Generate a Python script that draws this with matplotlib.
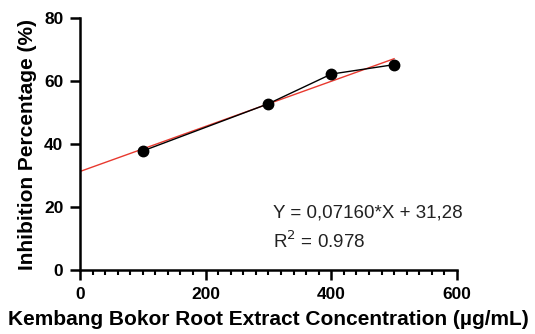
import matplotlib
matplotlib.use('Agg')
import matplotlib.pyplot as plt
import numpy as np
from matplotlib.ticker import MultipleLocator

# concentration (ug/mL) and inhibition (%)
conc = [100, 300, 400, 500]
inhib = [37.8, 52.8, 62.2, 65.2]

slope = 0.07160
intercept = 31.28
fit_x = np.array([0, 500])
fit_y = slope*fit_x + intercept

plt.rcParams['font.family'] = ['Liberation Sans', 'DejaVu Sans']

fig = plt.figure(figsize=(5.35, 3.34), dpi=100)
ax = fig.add_axes([0.1495, 0.1916, 0.7045, 0.7544])

ax.plot(fit_x, fit_y, color='#e8392f', linewidth=1.0, zorder=2)
ax.plot(conc, inhib, color='black', linewidth=1.0, marker='o', markersize=7.5, zorder=3)

ax.set_xlim(0, 600)
ax.set_ylim(0, 80)
ax.xaxis.set_major_locator(MultipleLocator(200))
ax.xaxis.set_minor_locator(MultipleLocator(20))
ax.yaxis.set_major_locator(MultipleLocator(20))

for s in ['top', 'right']:
    ax.spines[s].set_visible(False)
for s in ['left', 'bottom']:
    ax.spines[s].set_linewidth(1.8)

ax.tick_params(which='major', length=7, width=1.8, labelsize=12.5, pad=5)
ax.tick_params(which='minor', length=3.5, width=1.5)
for lab in ax.get_xticklabels() + ax.get_yticklabels():
    lab.set_fontweight('bold')

ax.set_xlabel('Kembang Bokor Root Extract Concentration (µg/mL)', fontsize=15, fontweight='bold', labelpad=6)
ax.set_ylabel('Inhibition Percentage (%)', fontsize=15, fontweight='bold', labelpad=5)

ax.text(0.512, 0.21, 'Y = 0,07160*X + 31,28', transform=ax.transAxes, fontsize=13.5, color='#222222')
ax.text(0.512, 0.087, 'R$^2$ = 0.978', transform=ax.transAxes, fontsize=13.5, color='#222222')

fig.savefig('out.png', dpi=100)
